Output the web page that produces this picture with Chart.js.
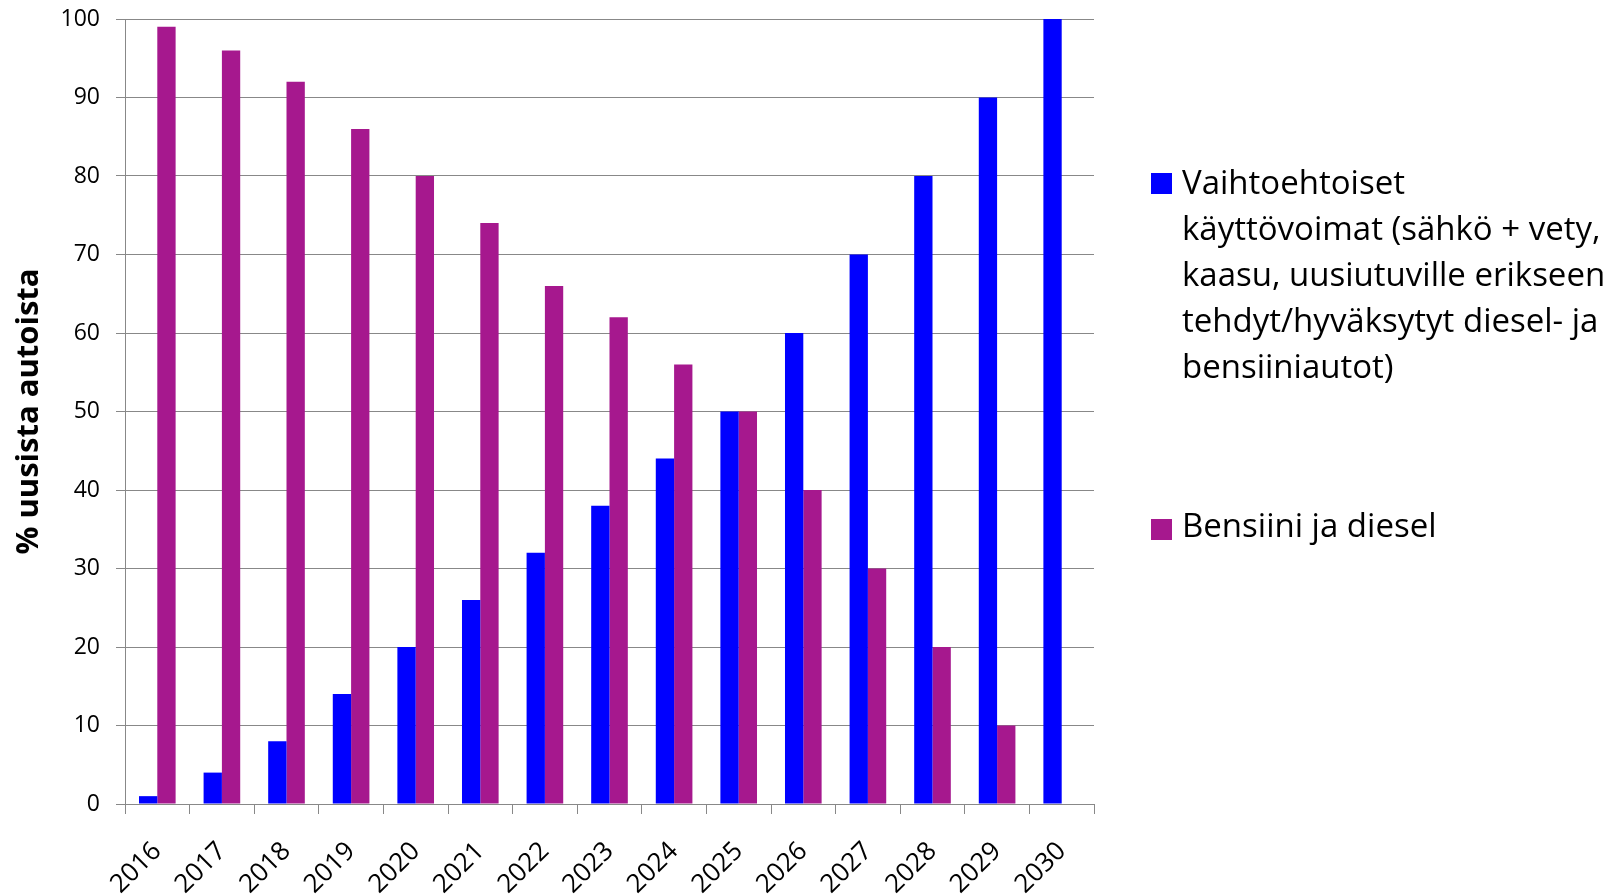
<!DOCTYPE html>
<html>
<head>
<meta charset="utf-8">
<script src="https://cdn.jsdelivr.net/npm/chart.js@4.4.1/dist/chart.umd.min.js"></script>
<style>
  html, body { margin: 0; padding: 0; background: #fff; }
  #wrap { position: relative; width: 1618px; height: 895px; overflow: hidden; }
  canvas { position: absolute; left: 0; top: 0; }
  .leg { position: absolute; left: 1151px; font-family: "Open Sans", sans-serif; font-size: 33px; line-height: 46px; color: #000; white-space: nowrap; }
  .leg .sw { position: absolute; left: 0; width: 21px; height: 21px; }
  .leg .tx { position: absolute; left: 31px; top: 0; }
</style>
</head>
<body>
<div id="wrap">
  <canvas id="c" width="1618" height="895"></canvas>
  <div class="leg" style="top:159px;"><div class="sw" id="sw1" style="top:14px;"></div><div class="tx" id="lg1"></div></div>
  <div class="leg" style="top:502px;"><div class="sw" id="sw2" style="top:17px;"></div><div class="tx" id="lg2"></div></div>
</div>
<script>
const categories = ["2016","2017","2018","2019","2020","2021","2022","2023","2024","2025","2026","2027","2028","2029","2030"];
const alternativeValues = [1, 4, 8, 14, 20, 26, 32, 38, 44, 50, 60, 70, 80, 90, 100];
const petrolDieselValues = [99, 96, 92, 86, 80, 74, 66, 62, 56, 50, 40, 30, 20, 10, 0];
const seriesNames = [
  ["Vaihtoehtoiset", "käyttövoimat (sähkö + vety,", "kaasu, uusiutuville erikseen", "tehdyt/hyväksytyt diesel- ja", "bensiiniautot)"],
  ["Bensiini ja diesel"]
];
const seriesColors = ["#0000FF", "#A6188E"];
const yTitle = "% uusista autoista";

document.getElementById('lg1').innerHTML = seriesNames[0].join('<br>');
document.getElementById('lg2').innerHTML = seriesNames[1].join('<br>');
document.getElementById('sw1').style.background = seriesColors[0];
document.getElementById('sw2').style.background = seriesColors[1];

const gridColor = '#888888';
new Chart(document.getElementById('c'), {
  type: 'bar',
  data: {
    labels: categories,
    datasets: [
      { label: seriesNames[0].join(' '), data: alternativeValues, backgroundColor: seriesColors[0], barPercentage: 1, categoryPercentage: 0.567 },
      { label: seriesNames[1].join(' '), data: petrolDieselValues, backgroundColor: seriesColors[1], barPercentage: 1, categoryPercentage: 0.567 }
    ]
  },
  options: {
    responsive: false,
    animation: false,
    layout: { padding: { top: 19, right: 524, left: 0, bottom: 0 } },
    plugins: { legend: { display: false }, tooltip: { enabled: false } },
    scales: {
      x: {
        grid: { offset: true, drawOnChartArea: false, drawTicks: true, tickLength: 10, color: gridColor },
        border: { display: true, color: gridColor },
        ticks: { color: '#000', font: { family: 'Open Sans', size: 26 }, maxRotation: 45, minRotation: 45, padding: 22, labelOffset: 0 },
        afterFit: (s) => { s.height = 91; }
      },
      y: {
        min: 0, max: 100,
        ticks: { stepSize: 10, color: '#000', font: { family: 'Open Sans', size: 23 }, padding: 16 },
        grid: { color: gridColor, tickLength: 9 },
        border: { display: true, color: gridColor },
        title: { display: true, text: yTitle, color: '#000', font: { family: 'Open Sans', size: 31, weight: 'bold' }, padding: { top: 11, bottom: 0 } },
        afterFit: (s) => { s.width = 125; s.paddingTop = 12; s.paddingBottom = 12; }
      }
    }
  }
});
</script>
</body>
</html>
